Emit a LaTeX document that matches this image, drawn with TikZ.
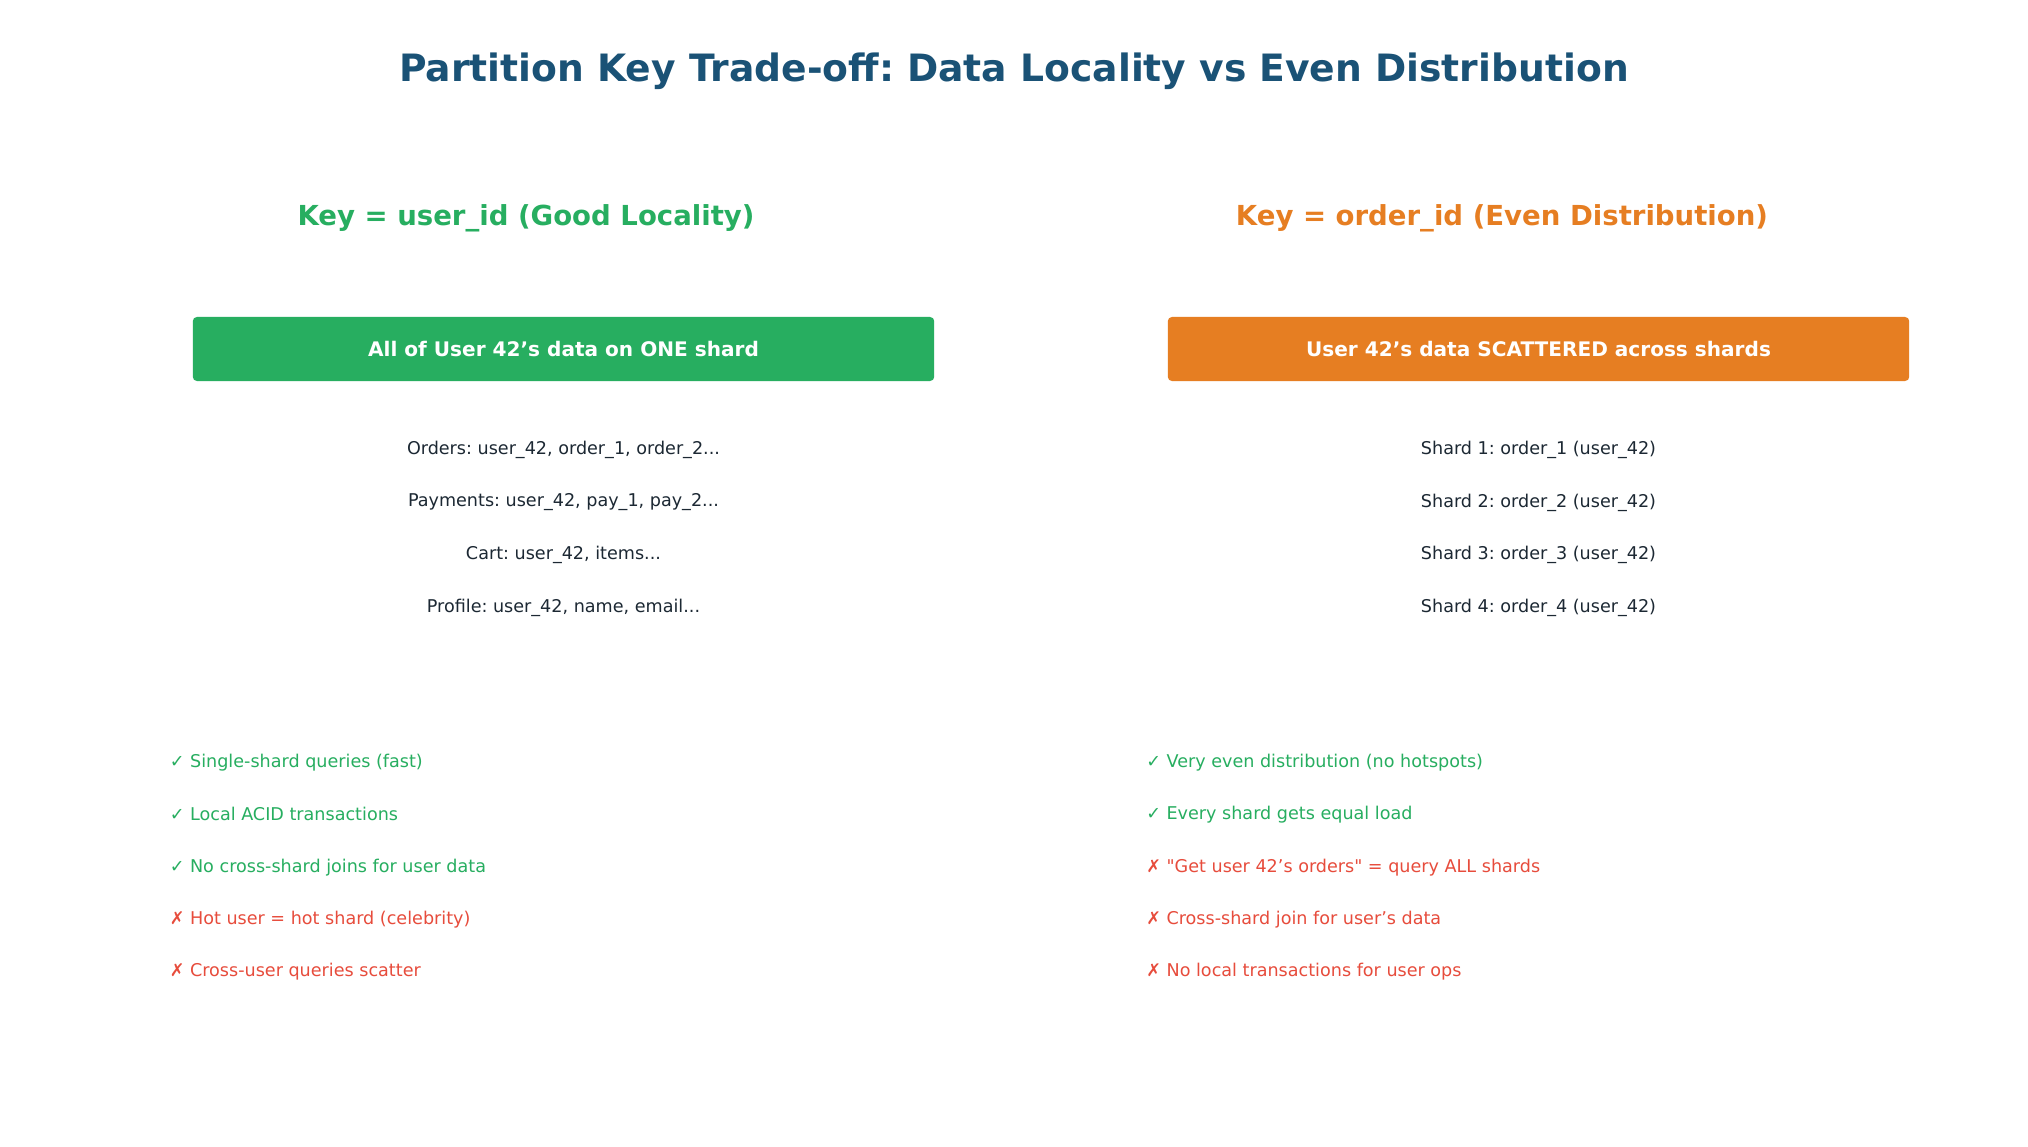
\documentclass[tikz,border=0pt]{standalone}
\usepackage{xcolor, fontspec}
\setmainfont{DejaVu Sans}
\usepackage{tikz}
\definecolor{titleblue}{HTML}{1A5276}
\definecolor{goodgreen}{HTML}{27AE60}
\definecolor{evenorange}{HTML}{E67E22}
\definecolor{badred}{HTML}{E74C3C}
\definecolor{itemgray}{HTML}{1C2833}
\frenchspacing
\begin{document}
\begin{tikzpicture}
	[x=0.01in, y=-0.01in,
	heading/.style={font=\bfseries\fontsize{19.9}{23}\selectfont},
	keybox/.style={rounded corners=3pt, minimum width=7.41in, minimum height=0.64in,
		text=white, font=\bfseries\fontsize{14.5}{17}\selectfont},
	item/.style={text=itemgray, font=\fontsize{12.7}{15}\selectfont},
	pro/.style={anchor=west, inner xsep=0pt, text=goodgreen, font=\fontsize{12.7}{15}\selectfont},
	con/.style={pro, text=badred}]
	\useasboundingbox[fill=white] (0,0) rectangle (2028,1147);
	\node[text=titleblue, font=\bfseries\fontsize{27.2}{31}\selectfont] (title) at (1014,71)
		{Partition Key Trade-off: Data Locality vs Even Distribution};
	\node[heading, text=goodgreen] (userkey) at (526,218) {Key = user\_id (Good Locality)};
	\node[heading, text=evenorange] (orderkey) at (1502,218) {Key = order\_id (Even Distribution)};
	\node[keybox, fill=goodgreen] (onebox) at (563.5,349) {All of User 42’s data on ONE shard};
	\node[keybox, fill=evenorange] (scatterbox) at (1538.5,349) {User 42’s data SCATTERED across shards};
	\node[item] (orders) at (563.5,450) {Orders: user\_42, order\_1, order\_2...};
	\node[item] (payments) at (563.5,502.5) {Payments: user\_42, pay\_1, pay\_2...};
	\node[item] (cart) at (563.5,555) {Cart: user\_42, items...};
	\node[item] (profile) at (563.5,607.5) {Profile: user\_42, name, email...};
	\node[item] (shard1) at (1538.5,450) {Shard 1: order\_1 (user\_42)};
	\node[item] (shard2) at (1538.5,502.5) {Shard 2: order\_2 (user\_42)};
	\node[item] (shard3) at (1538.5,555) {Shard 3: order\_3 (user\_42)};
	\node[item] (shard4) at (1538.5,607.5) {Shard 4: order\_4 (user\_42)};
	\node[pro] (userpro1) at (169.5,763) {✓ Single-shard queries (fast)};
	\node[pro] (userpro2) at (169.5,814) {✓ Local ACID transactions};
	\node[pro] (userpro3) at (169.5,867.5) {✓ No cross-shard joins for user data};
	\node[con] (usercon1) at (169.5,919.5) {✗ Hot user = hot shard (celebrity)};
	\node[con] (usercon2) at (169.5,971.5) {✗ Cross-user queries scatter};
	\node[pro] (orderpro1) at (1146,763) {✓ Very even distribution (no hotspots)};
	\node[pro] (orderpro2) at (1146,815) {✓ Every shard gets equal load};
	\node[con] (ordercon1) at (1146,867.5) {✗ \textquotedbl Get user 42’s orders\textquotedbl{} = query ALL shards};
	\node[con] (ordercon2) at (1146,919.5) {✗ Cross-shard join for user’s data};
	\node[con] (ordercon3) at (1146,971.5) {✗ No local transactions for user ops};
\end{tikzpicture}
\end{document}
